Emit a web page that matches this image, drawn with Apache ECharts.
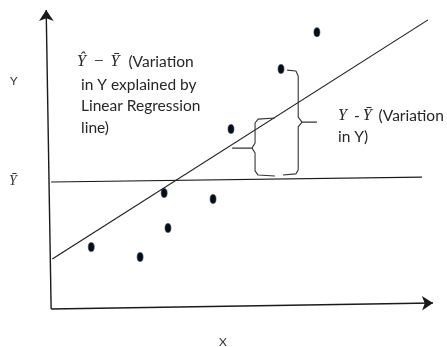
<!DOCTYPE html>
<html>
<head>
<meta charset="utf-8">
<script src="https://cdn.jsdelivr.net/npm/echarts@6/dist/echarts.min.js"></script>
<style>
  html, body { margin: 0; padding: 0; background: #fff; }
  #chart { width: 447px; height: 347px; }
</style>
</head>
<body>
<div id="chart"></div>
<script>
// observations (abstract units, origin at the axis corner)
const pointsX = [10.5, 23.3, 29.6, 30.6, 42.4, 47.1, 60.2, 69.6];
const pointsY = [20.7, 17.4, 38.8, 27.1, 36.8, 60.2, 80.3, 92.6];

// fitted regression line and the mean line (end points)
const fitLine = [[0.3, 16.7], [98.7, 96.7]];
const meanLine = [[0, 42.5], [97.1, 44.1]];

// hand drawn axes
const xAxisPath = [[0, 0], [100, 2]];
const yAxisPath = [[0, 0], [-1.3, 100]];

// braces: '-' breaks the stroke
const bigBrace = [
  [61.8, 79.9], [64.1, 79.6], [64.7, 77.9], [64.7, 64.2], [65.7, 62.5], [69.6, 62.5], '-',
  [65.7, 62.5], [64.7, 60.9], [64.7, 46.5], [64.1, 45.2], [60.7, 44.8]
];
const smallBrace = [
  [58.6, 63.9], [54.2, 63.5], [53.4, 62.2], [53.4, 55.5], [52.6, 53.8], [47.4, 53.8], '-',
  [52.6, 53.8], [53.4, 52.2], [53.4, 46.2], [54.2, 44.8], [58.6, 44.5]
];

const ink = '#1a1a1a';
const txt = '#262626';
const sans = 'Lato, "Open Sans", sans-serif';
const serif = '"Liberation Serif", "DejaVu Serif", serif';
const bodyFont = '15.5px ' + sans;
const mathFont = 'italic 16px ' + serif;

var myChart = echarts.init(document.getElementById('chart'));

let option = {
  animation: false,
  grid: { left: 1.5, right: 14, top: 10, bottom: 2.1 },
  xAxis: { type: 'value', min: -13, max: 100, show: false },
  yAxis: { type: 'value', min: -12, max: 100, show: false },
  series: [
    {
      name: 'axes',
      type: 'lines',
      coordinateSystem: 'cartesian2d',
      silent: true,
      symbol: ['none', 'arrow'],
      symbolSize: [9, 11],
      lineStyle: { color: ink, width: 1.4, opacity: 1 },
      data: [{ coords: xAxisPath }, { coords: yAxisPath }]
    },
    {
      name: 'mean',
      type: 'line',
      showSymbol: false,
      silent: true,
      lineStyle: { color: ink, width: 1.1 },
      data: meanLine
    },
    {
      name: 'fit',
      type: 'line',
      showSymbol: false,
      silent: true,
      lineStyle: { color: ink, width: 1.1 },
      data: fitLine
    },
    {
      name: 'bigBrace',
      type: 'line',
      showSymbol: false,
      silent: true,
      connectNulls: false,
      lineStyle: { color: '#333', width: 1.1 },
      data: bigBrace
    },
    {
      name: 'smallBrace',
      type: 'line',
      showSymbol: false,
      silent: true,
      connectNulls: false,
      lineStyle: { color: '#333', width: 1.1 },
      data: smallBrace
    },
    {
      name: 'points',
      type: 'scatter',
      symbol: 'circle',
      symbolSize: [6, 9],
      itemStyle: { color: '#0b0b10', borderColor: '#2a4866', borderWidth: 0.6, opacity: 1 },
      data: pointsX.map((x, i) => [x, pointsY[i]])
    }
  ],
  graphic: [
    {
      type: 'text', left: 10, top: 75,
      style: { text: 'Y', font: '12px ' + sans, fill: '#333' }
    },
    {
      type: 'text', left: 9, top: 174,
      style: { text: 'Ȳ', font: 'italic 14px ' + serif, fill: '#333' }
    },
    {
      type: 'text', left: 219, top: 336,
      style: { text: 'X', font: '12px ' + sans, fill: '#333' }
    },
    {
      // first line of the explained-variation note
      type: 'text', left: 77, top: 53,
      style: {
        text: '{m|Ŷ}{op|−}{m|Ȳ}{t|(Variation}',
        font: bodyFont,
        fill: txt,
        rich: {
          m: { font: mathFont, fill: txt },
          op: { font: '17px ' + serif, fill: txt, padding: [0, 7, 0, 8] },
          t: { font: bodyFont, fill: txt, padding: [0, 0, 0, 9] }
        }
      }
    },
    {
      type: 'text', left: 81, top: 74,
      style: {
        text: 'in Y explained by\nLinear Regression\nline)',
        font: bodyFont,
        fill: txt,
        lineHeight: 21.5
      }
    },
    {
      type: 'text', left: 338, top: 105,
      style: {
        text: '{m|Y}{d|-}{m|Ȳ}{t|(Variation}\nin Y)',
        font: bodyFont,
        fill: txt,
        lineHeight: 21.5,
        rich: {
          m: { font: mathFont, fill: txt, lineHeight: 21.5 },
          d: { font: bodyFont, fill: txt, padding: [0, 3, 0, 7], lineHeight: 21.5 },
          t: { font: bodyFont, fill: txt, padding: [0, 0, 0, 7], lineHeight: 21.5 }
        }
      }
    }
  ]
};
myChart.setOption(option);
</script>
</body>
</html>
